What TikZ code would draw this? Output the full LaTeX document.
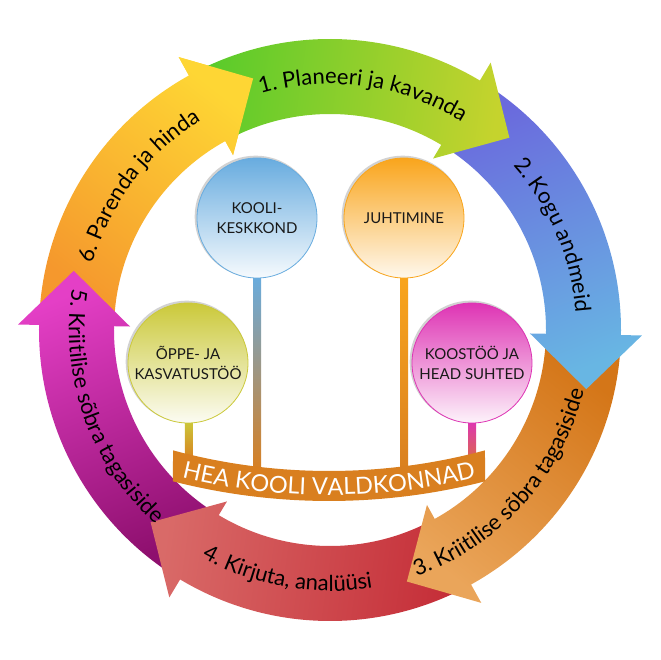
\documentclass[tikz,border=0pt]{standalone}
\usepackage{fontspec}
\setmainfont{Lato}
\usetikzlibrary{decorations.text,calc}
\definecolor{gA}{HTML}{5ACB2B}\definecolor{gB}{HTML}{C5D32D}
\definecolor{bA}{HTML}{6A6ADD}\definecolor{bB}{HTML}{68B6E3}
\definecolor{oA}{HTML}{D47618}\definecolor{oB}{HTML}{EAA55A}
\definecolor{rA}{HTML}{C52E38}\definecolor{rB}{HTML}{D96A68}
\definecolor{pA}{HTML}{8E0F6E}\definecolor{pB}{HTML}{E43FC6}
\definecolor{yA}{HTML}{F5982D}\definecolor{yB}{HTML}{FED634}
\definecolor{cBlue}{HTML}{68ACDF}
\definecolor{cOrange}{HTML}{F9A51C}
\definecolor{cOlive}{HTML}{CBC93A}
\definecolor{cMagenta}{HTML}{DE34B4}
\definecolor{bannerc}{HTML}{D97F1F}
\newcommand\arrowfont{\fontsize{22}{26}\selectfont}
\newcommand\bannerfont{\fontsize{23.5}{28}\selectfont}
% #1 head base angle, #2 tail colour, #3 head colour, #4 shading angle
\newcommand\cycarrow[4]{\shade[top color=#2,bottom color=#3,shading angle=#4]
  (#1+58:291pt) arc[start angle=#1+58,end angle=#1,radius=291pt]
  -- (#1:312pt) -- (#1-12:263pt) -- (#1:200pt) -- (#1:216pt)
  arc[start angle=#1,end angle=#1+58,radius=216pt] -- cycle;}
\newcommand\cwtext[3]{\path[decorate,decoration={text along path,text align=center,text={#3}}]
  (#1+45:#2) arc[start angle=#1+45,end angle=#1-45,radius=#2];}
\newcommand\ccwtext[3]{\path[decorate,decoration={text along path,text align=center,text={#3}}]
  (#1-45:#2) arc[start angle=#1-45,end angle=#1+45,radius=#2];}
\begin{document}
\begin{tikzpicture}[x=1pt,y=1pt,
  bubble/.style={circle,minimum size=120pt,inner sep=0pt,align=center,
    font=\fontsize{15}{19.5}\selectfont,text=black!90,line width=0.8pt},
  rim/.style={fill=gray!35}]
\useasboundingbox (-330,-330) rectangle (330,330);
% cycle arrows
\cycarrow{-241}{yA}{yB}{-218}
\cycarrow{-181}{pA}{pB}{-158}
\cycarrow{-121}{rA}{rB}{-98}
\cycarrow{-61}{oA}{oB}{-38}
\cycarrow{-1}{bA}{bB}{22}
\cycarrow{59}{gA}{gB}{82}
\begin{scope}
  \clip (-241:312pt) -- (-253:263pt) -- (-241:200pt) -- cycle;
  \cycarrow{-241}{yA}{yB}{-218}
\end{scope}
% arrow labels
\cwtext{82}{246pt}{|\arrowfont|1. Planeeri ja kavanda}
\cwtext{23}{246pt}{|\arrowfont|2. Kogu andmeid}
\ccwtext{-42}{261pt}{|\arrowfont|3. Kriitilise sõbra tagasiside}
\ccwtext{260}{261pt}{|\arrowfont|4. Kirjuta, analüüsi}
\ccwtext{199.5}{261pt}{|\arrowfont|5. Kriitilise sõbra tagasiside}
\cwtext{143}{246pt}{|\arrowfont|6. Parenda ja hinda}
% coordinates
\coordinate (bc) at (-1,459);
\coordinate (kkc) at (-73,112); \coordinate (kkb) at (-73,54); \coordinate (s1) at (-73,-142);
\coordinate (juc) at (74,112);  \coordinate (jub) at (74,54);  \coordinate (s2) at (74,-142);
\coordinate (opc) at (-142,-33); \coordinate (opb) at (-141,-91); \coordinate (s3) at (-141,-130);
\coordinate (koc) at (142,-33); \coordinate (kob) at (142,-91); \coordinate (s4) at (142,-130);
% stalks
\shade[top color=cBlue,bottom color=bannerc] ($(kkb)+(-4,0)$) rectangle ($(s1)+(4,0)$);
\shade[top color=cOrange,bottom color=bannerc] ($(jub)+(-4,0)$) rectangle ($(s2)+(4,0)$);
\shade[top color=cOlive,bottom color=bannerc] ($(opb)+(-4,0)$) rectangle ($(s3)+(4,0)$);
\shade[top color=cMagenta,bottom color=bannerc!70!cMagenta] ($(kob)+(-4,0)$) rectangle ($(s4)+(4,0)$);
% banner
\fill[bannerc] ($(bc)+(254.93:600pt)$) arc[start angle=254.93,end angle=285.07,radius=600pt]
  -- ($(bc)+(284.34:630pt)$) arc[start angle=284.34,end angle=255.66,radius=630pt] -- cycle;
\path[decorate,decoration={text along path,text align=center,
  text={|\bannerfont\color{white}|HEA KOOLI VALDKONNAD}}]
  ($(bc)+(245:624pt)$) arc[start angle=245,end angle=295,radius=624pt];
% circles
\fill[rim] ($(kkc)+(-1.3,1.3)$) circle[radius=61pt];
\fill[rim] ($(juc)+(-1.3,1.3)$) circle[radius=61pt];
\fill[rim] ($(opc)+(-1.3,1.3)$) circle[radius=61pt];
\fill[rim] ($(koc)+(-1.3,1.3)$) circle[radius=61pt];
\node[bubble,top color=cBlue,bottom color=cBlue!6,draw=cBlue] (kk) at (kkc) {KOOLI-\\KESKKOND};
\node[bubble,top color=cOrange,bottom color=cOrange!8,draw=cOrange] (ju) at (juc) {JUHTIMINE};
\node[bubble,top color=cOlive,bottom color=cOlive!6,draw=cOlive] (op) at (opc) {ÕPPE- JA\\KASVATUSTÖÖ};
\node[bubble,top color=cMagenta,bottom color=cMagenta!6,draw=cMagenta] (ko) at (koc) {KOOSTÖÖ JA\\HEAD SUHTED};
\end{tikzpicture}
\end{document}
